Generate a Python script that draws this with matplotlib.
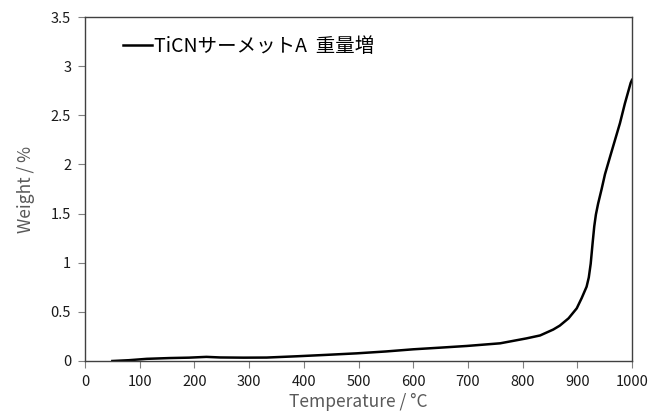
import matplotlib
matplotlib.use("Agg")
import matplotlib.pyplot as plt

plt.rcParams['font.family'] = ['Noto Sans CJK JP', 'DejaVu Sans']

temperature = [50, 80, 113, 155, 190, 222, 247, 290, 332, 387, 440, 497, 550, 600, 650, 698,
               759, 807, 832, 844, 856, 868, 884, 899, 908, 917, 921, 924.5, 928, 931, 934,
               938, 944.5, 950.6, 960, 969, 978, 987, 997.6, 1000]
weight = [0.0, 0.008, 0.022, 0.03, 0.034, 0.042, 0.036, 0.034, 0.035, 0.048, 0.062, 0.078, 0.097, 0.119, 0.136, 0.153,
          0.18, 0.23, 0.26, 0.29, 0.32, 0.36, 0.434, 0.536, 0.64, 0.756, 0.85, 0.99, 1.2, 1.37, 1.49,
          1.6, 1.75, 1.9, 2.08, 2.25, 2.42, 2.62, 2.83, 2.86]

series_label = "TiCNサーメットA  重量増"
x_ticks = [0, 100, 200, 300, 400, 500, 600, 700, 800, 900, 1000]
y_ticks = [0, 0.5, 1, 1.5, 2, 2.5, 3, 3.5]
y_tick_labels = ["0", "0.5", "1", "1.5", "2", "2.5", "3", "3.5"]

fig = plt.figure(figsize=(6.66, 4.12), dpi=100)
ax = fig.add_axes([85/666, 51/412, (632-85)/666, (361-17)/412])
ax.plot(temperature, weight, color='black', lw=1.8, label=series_label,
        solid_joinstyle='round')
ax.set_xlim(0, 1000)
ax.set_ylim(0, 3.5)
ax.set_xticks(x_ticks)
ax.set_yticks(y_ticks)
ax.set_yticklabels(y_tick_labels)
for s in ax.spines.values():
    s.set_color('#404040')
    s.set_linewidth(1.0)
ax.tick_params(direction='out', length=5, width=0.8, color='#808080', labelsize=10.5,
               labelcolor='#1a1a1a', pad=5)
ax.set_xlabel("Temperature / °C", fontsize=12.5, color='#595959', labelpad=3)
ax.set_ylabel("Weight / %", fontsize=12.5, color='#595959', labelpad=11)
leg = ax.legend(loc='upper left', bbox_to_anchor=(0.045, 0.985), frameon=False, fontsize=14,
                handlelength=1.5, handletextpad=0.1, borderaxespad=0.3)
fig.savefig("out.png", dpi=100)
